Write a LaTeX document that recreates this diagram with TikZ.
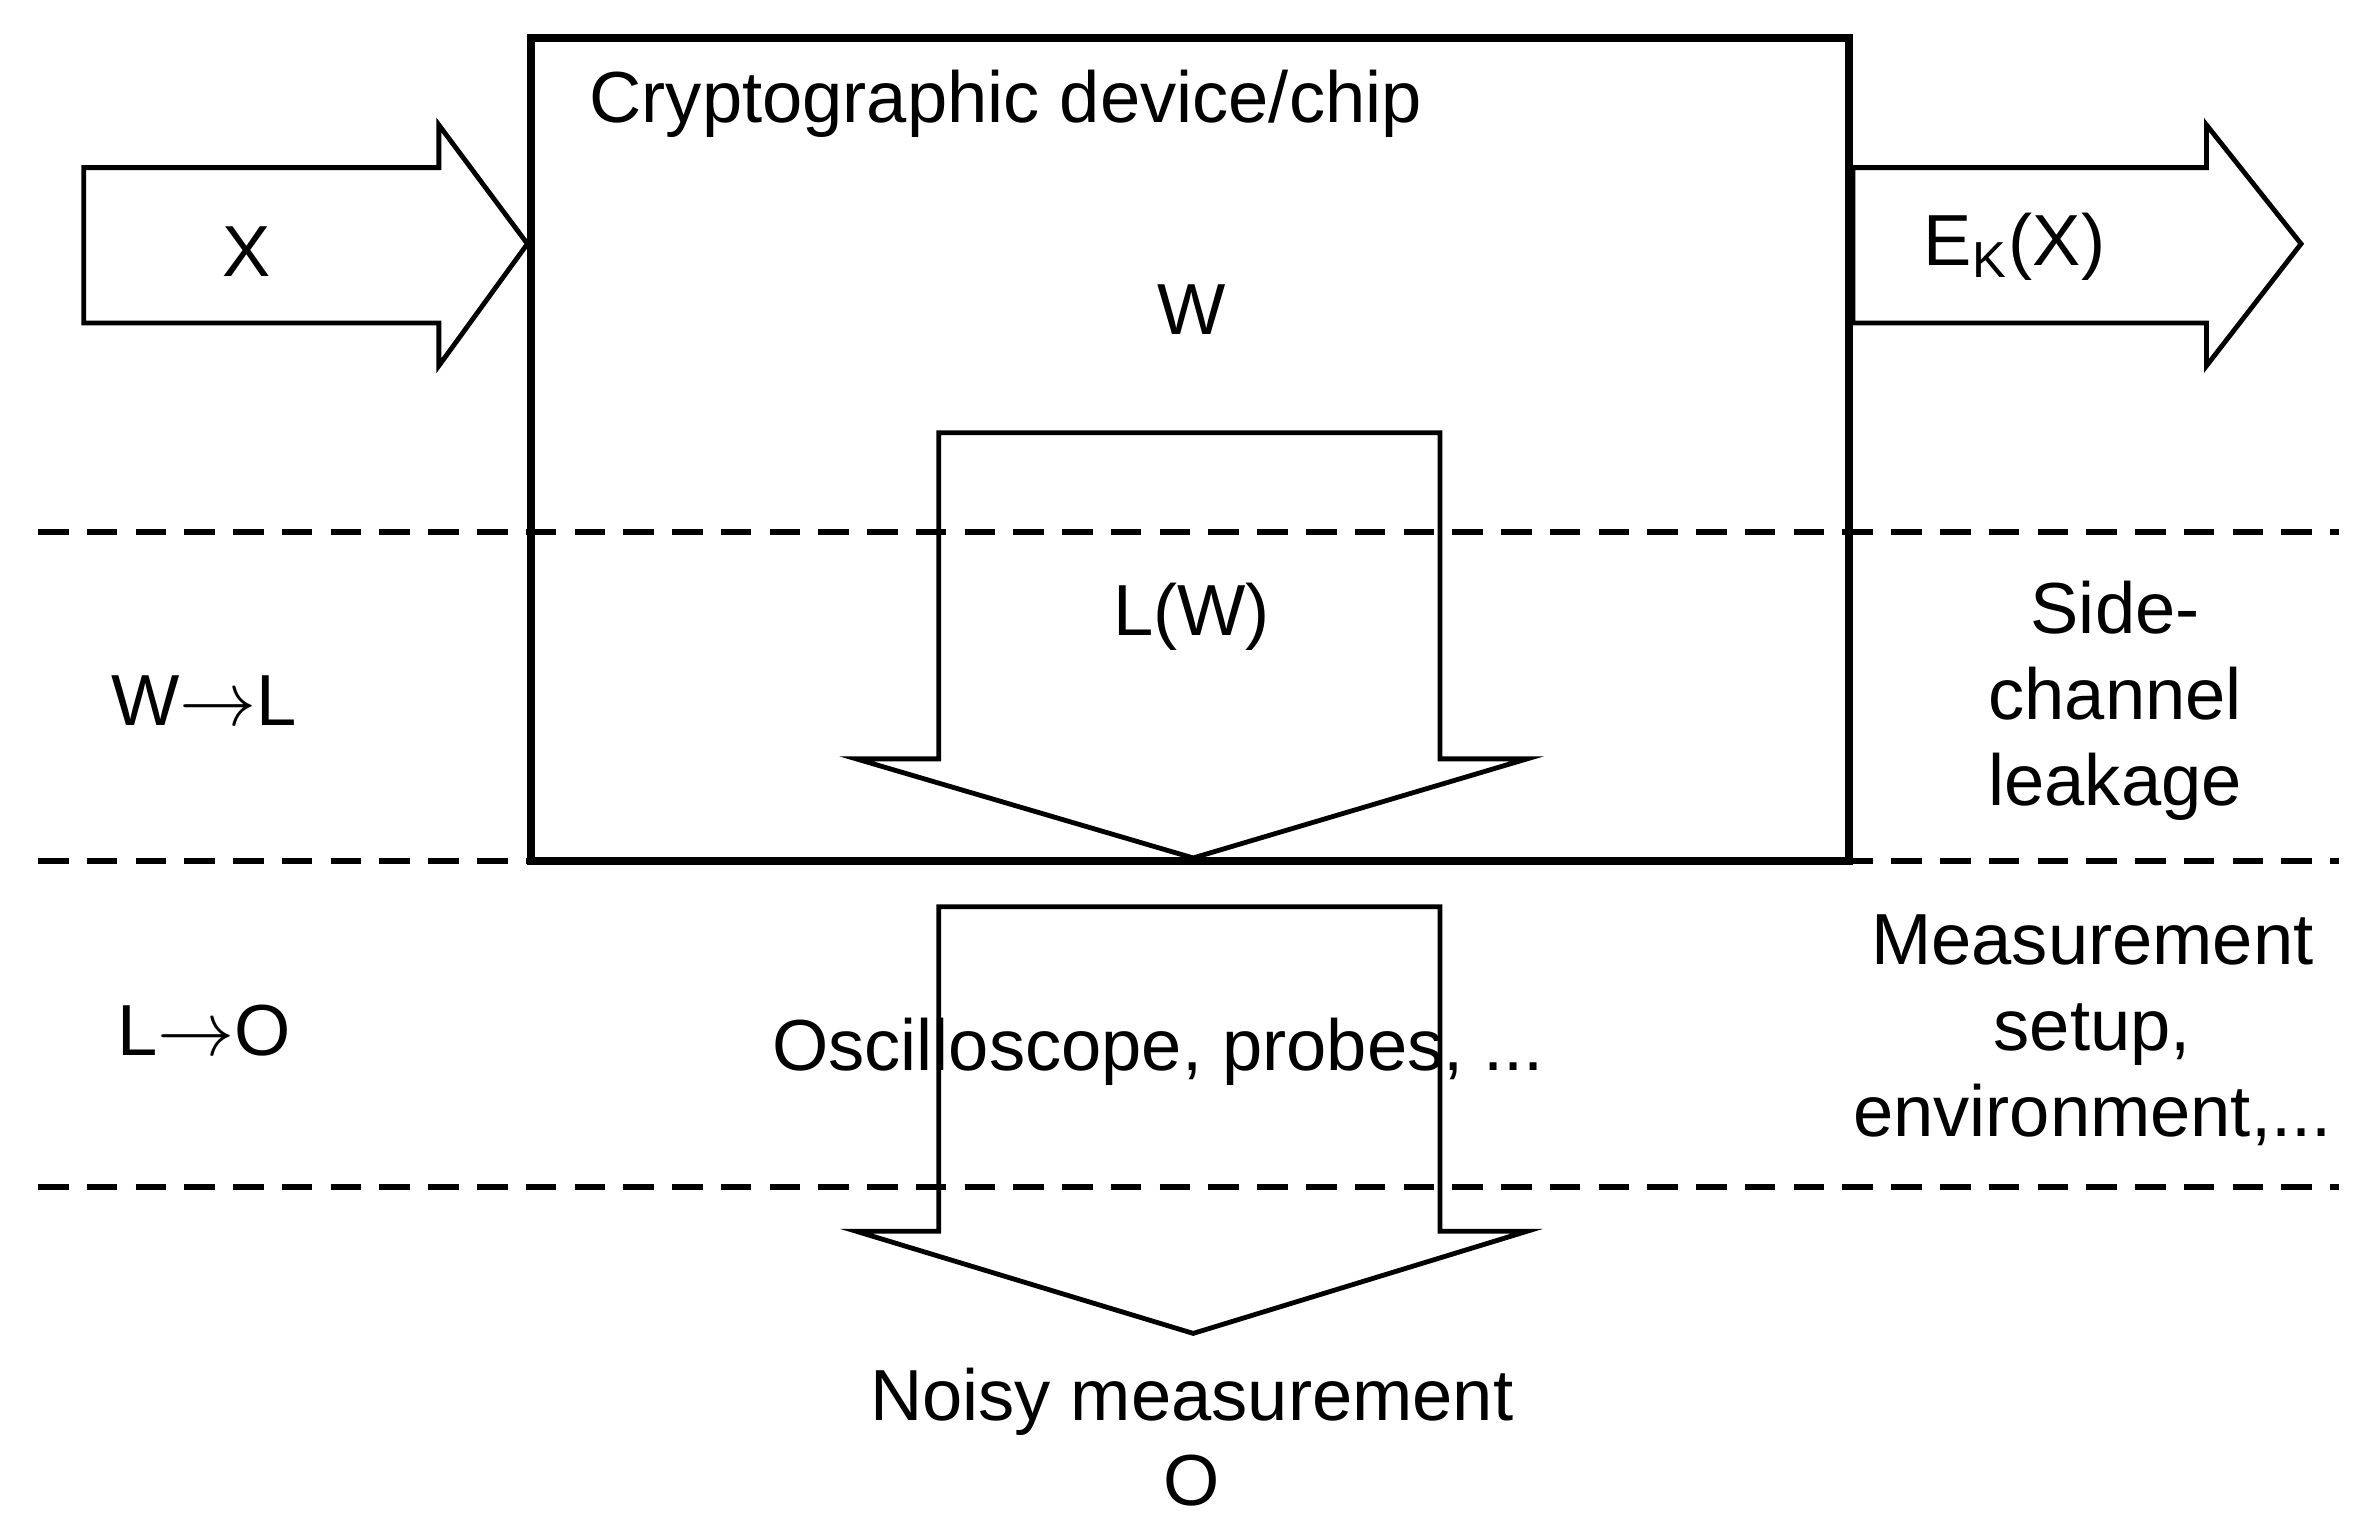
\documentclass[tikz,border=0pt]{standalone}
\usepackage{fontspec}
\setmainfont{Liberation Sans}
\begin{document}
\begin{tikzpicture}[x=0.01cm,y=-0.01cm,
  lbl/.style={font=\fontsize{13.5}{16}\selectfont, inner sep=0pt, align=center},
  dashline/.style={line width=1.1pt, dash pattern=on 5.7pt off 3.4pt},
  arr/.style={line width=0.9pt, line join=miter}]
\useasboundingbox (0,0) rectangle (1550,993.6);
\node[draw, line width=1.5pt, minimum width=8.64cm, minimum height=5.4cm, inner sep=0pt] (box) at (781,295) {};
\coordinate (boxl) at (box.west |- 0,160);
\coordinate (boxr) at (box.east |- 0,160);
% left arrow
\draw[arr] (55,110) -- (288,110) -- (288,82) -- (boxl) -- (288,240) -- (288,212) -- (55,212) -- cycle;
% right arrow
\draw[arr] (boxr) |- (1448,110) -- (1448,82) -- (1510,160) -- (1448,240) -- (1448,212) -| (boxr);
% down arrow 1
\draw[arr] (616,498) -- (616,284) -- (945,284) -- (945,498) -- (1002,498) -- (783,563) -- (562,498) -- cycle;
% down arrow 2
\draw[arr] (616,808) -- (616,595) -- (945,595) -- (945,808) -- (1002,808) -- (783,875) -- (562,808) -- cycle;
% dashed
\draw[dashline] (25,349) -- (1535,349);
\draw[dashline] (25,565) -- (1535,565);
\draw[dashline] (25,779) -- (1535,779);
% texts
\node[lbl] (t1) at (660,68) {Cryptographic device/chip};
\node[lbl] (tx) at (162,165) {X};
\node[lbl] (tw) at (782,203) {W};
\node[lbl] (te) at (1322,162) {E\textsubscript{K}(X)};
\node[lbl] (tlw) at (782,405) {L(W)};
\node[lbl] (twl) at (134,460) {W$\rightarrow$L};
\node[lbl] (ts) at (1388,460) {Side-\\channel\\leakage};
\node[lbl] (tlo) at (134,676) {L$\rightarrow$O};
\node[lbl] (to) at (760,690) {Oscilloscope, probes, ...};
\node[lbl] (tm) at (1373,676) {Measurement\\setup,\\environment,...};
\node[lbl] (tn) at (782,943) {Noisy measurement\\O};
\end{tikzpicture}
\end{document}
